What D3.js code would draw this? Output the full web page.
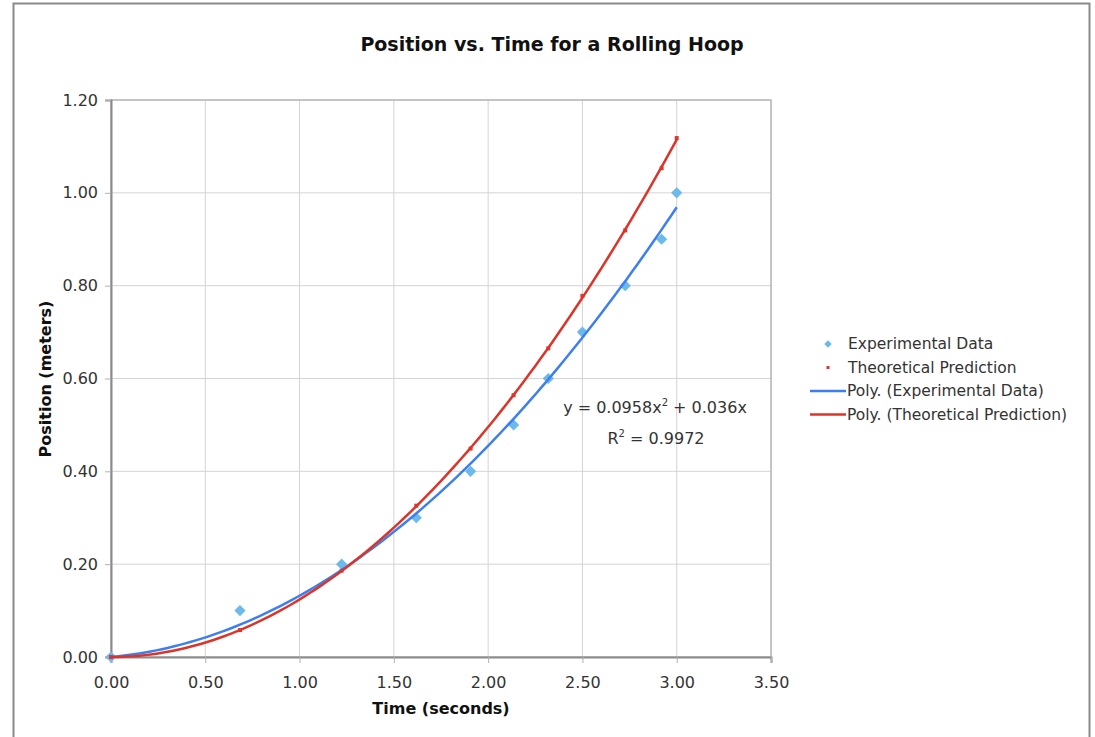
<!DOCTYPE html>
<html>
<head>
<meta charset="utf-8">
<script src="https://cdn.jsdelivr.net/npm/d3@7"></script>
<style>
  body { margin: 0; background: #fff; }
  svg text { font-family: "DejaVu Sans", Verdana, sans-serif; }
</style>
</head>
<body>
<div id="chart"></div>
<script>
// data
var times = [0, 0.684, 1.223, 1.619, 1.907, 2.135, 2.319, 2.50, 2.727, 2.92, 3.00];
var experimental = [0, 0.10, 0.20, 0.30, 0.40, 0.50, 0.60, 0.70, 0.80, 0.90, 1.00];
var theoretical = [0, 0.058, 0.186, 0.326, 0.449, 0.564, 0.665, 0.778, 0.919, 1.053, 1.118];
var xTicks = [0, 0.5, 1.0, 1.5, 2.0, 2.5, 3.0, 3.5];
var yTicks = [0, 0.2, 0.4, 0.6, 0.8, 1.0, 1.2];
var legendLabels = ["Experimental Data", "Theoretical Prediction", "Poly. (Experimental Data)", "Poly. (Theoretical Prediction)"];

var W = 1095, H = 737;
var svg = d3.select("#chart").append("svg").attr("width", W).attr("height", H);

// outer frame
svg.append("rect").attr("x", 13.5).attr("y", 3.5).attr("width", 1076).attr("height", 740)
  .style("fill", "none").style("stroke", "#8a8a8a").style("stroke-width", 2);

var pL = 111, pR = 771, pT = 100, pB = 657;
var x = d3.scaleLinear().domain([0, 3.5]).range([pL, pR]);
var y = d3.scaleLinear().domain([0, 1.2]).range([pB, pT]);

// grid
svg.append("g").selectAll("line").data(xTicks.slice(1)).join("line")
  .attr("x1", d => x(d)).attr("x2", d => x(d)).attr("y1", pT).attr("y2", pB)
  .style("stroke", "#d4d4d4").style("stroke-width", 1);
svg.append("g").selectAll("line").data(yTicks.slice(1)).join("line")
  .attr("x1", pL).attr("x2", pR).attr("y1", d => y(d)).attr("y2", d => y(d))
  .style("stroke", "#d4d4d4").style("stroke-width", 1);
svg.append("rect").attr("x", pL).attr("y", pT).attr("width", pR - pL).attr("height", pB - pT)
  .style("fill", "none").style("stroke", "#b8b8b8").style("stroke-width", 1.5);

// axes
var xAxis = svg.append("g").attr("transform", "translate(0," + pB + ")")
  .call(d3.axisBottom(x).tickValues(xTicks).tickFormat(d3.format(".2f")).tickSize(6).tickPadding(14));
var yAxis = svg.append("g").attr("transform", "translate(" + pL + ",0)")
  .call(d3.axisLeft(y).tickValues(yTicks).tickFormat(d3.format(".2f")).tickSize(6).tickPadding(7));
[xAxis, yAxis].forEach(function(g) {
  g.select(".domain").style("stroke", "#8a8a8a").style("stroke-width", 2);
  g.selectAll(".tick line").style("stroke", "#b0b0b0");
  g.selectAll(".tick text").style("font-size", "16px").style("fill", "#333");
});

// least squares y = a x^2 + b x (through origin), like the spreadsheet trendline
function polyFit(xs, ys) {
  var s4 = 0, s3 = 0, s2 = 0, s2y = 0, s1y = 0;
  xs.forEach(function(t, i) {
    s4 += t * t * t * t; s3 += t * t * t; s2 += t * t;
    s2y += t * t * ys[i]; s1y += t * ys[i];
  });
  var det = s4 * s2 - s3 * s3;
  return { a: (s2y * s2 - s3 * s1y) / det, b: (s4 * s1y - s3 * s2y) / det };
}
var fitE = polyFit(times, experimental);
var fitT = polyFit(times, theoretical);
var tMax = d3.max(times);
var samples = d3.range(0, 101).map(i => tMax * i / 100);
var line = d3.line().x(d => x(d[0])).y(d => y(d[1]));

// markers
svg.append("g").selectAll("path").data(times).join("path")
  .attr("d", d3.symbol().type(d3.symbolDiamond2).size(80))
  .attr("transform", (d, i) => "translate(" + x(d) + "," + y(experimental[i]) + ")")
  .style("fill", "#6cb9ec");
svg.append("g").selectAll("rect").data(times).join("rect")
  .attr("x", d => x(d) - 2).attr("y", (d, i) => y(theoretical[i]) - 2)
  .attr("width", 4).attr("height", 4).style("fill", "#d9392e");

svg.append("path").datum(samples.map(t => [t, fitE.a * t * t + fitE.b * t]))
  .attr("d", line).style("fill", "none").style("stroke", "#3d7ff0").style("stroke-width", 2.5);
svg.append("path").datum(samples.map(t => [t, fitT.a * t * t + fitT.b * t]))
  .attr("d", line).style("fill", "none").style("stroke", "#dc3428").style("stroke-width", 2.5);

// equation
var eq = svg.append("text").attr("x", 655).attr("y", 413).attr("text-anchor", "middle")
  .style("font-size", "16px").style("fill", "#333");
eq.append("tspan").text("y = 0.0958x");
eq.append("tspan").attr("dy", -7).style("font-size", "10px").text("2");
eq.append("tspan").attr("dy", 7).text(" + 0.036x");
var r2 = svg.append("text").attr("x", 656).attr("y", 444).attr("text-anchor", "middle")
  .style("font-size", "16px").style("fill", "#333");
r2.append("tspan").text("R");
r2.append("tspan").attr("dy", -7).style("font-size", "10px").text("2");
r2.append("tspan").attr("dy", 7).text(" = 0.9972");

// titles
svg.append("text").attr("x", 552).attr("y", 51).attr("text-anchor", "middle")
  .style("font-size", "19px").style("font-weight", "bold").style("fill", "#111")
  .text("Position vs. Time for a Rolling Hoop");
svg.append("text").attr("x", 441).attr("y", 714).attr("text-anchor", "middle")
  .style("font-size", "16px").style("font-weight", "bold").style("fill", "#111")
  .text("Time (seconds)");
svg.append("text").attr("transform", "translate(51,379) rotate(-90)").attr("text-anchor", "middle")
  .style("font-size", "16px").style("font-weight", "bold").style("fill", "#111")
  .text("Position (meters)");

// legend
var lg = svg.append("g").attr("transform", "translate(0,344)");
var rowH = 23.5;
lg.append("path").attr("d", d3.symbol().type(d3.symbolDiamond2).size(36)).attr("transform", "translate(828,0)")
  .style("fill", "#6cb9ec");
lg.append("rect").attr("x", 826.5).attr("y", rowH - 1.5).attr("width", 3).attr("height", 3).style("fill", "#d9392e");
lg.append("line").attr("x1", 810).attr("x2", 846).attr("y1", rowH * 2).attr("y2", rowH * 2)
  .style("stroke", "#3d7ff0").style("stroke-width", 2.5);
lg.append("line").attr("x1", 810).attr("x2", 846).attr("y1", rowH * 3).attr("y2", rowH * 3)
  .style("stroke", "#dc3428").style("stroke-width", 2.5);
lg.selectAll("text").data(legendLabels).join("text")
  .attr("x", (d, i) => i < 2 ? 848 : 847).attr("y", (d, i) => i * rowH + 5)
  .style("font-size", "15.5px").style("fill", "#333").text(d => d);
</script>
</body>
</html>
